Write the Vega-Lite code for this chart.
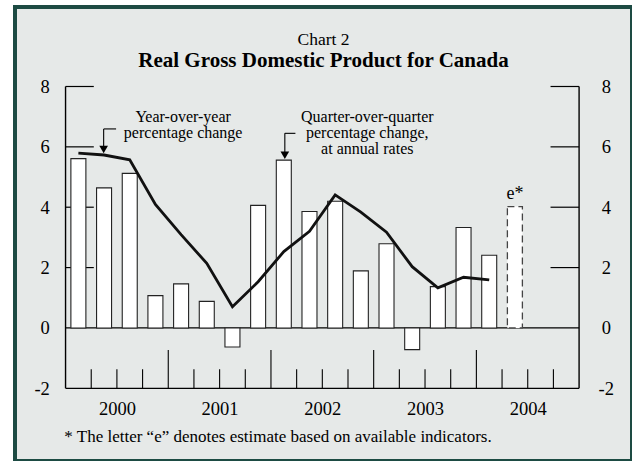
{
  "$schema": "https://vega.github.io/schema/vega-lite/v6.json",
  "width": 617,
  "height": 454,
  "padding": {"left": 15, "top": 7, "right": 0, "bottom": 0},
  "autosize": {"type": "none"},
  "background": "white",
  "config": {
    "view": {"fill": "#e6e9e8", "stroke": "#1d4b43", "strokeWidth": 4},
    "font": "Liberation Serif",
    "text": {"font": "Liberation Serif", "color": "black"}
  },
  "title": {
    "text": "Chart 2",
    "subtitle": "Real Gross Domestic Product for Canada",
    "anchor": "middle",
    "frame": "group",
    "offset": -64,
    "font": "Liberation Serif",
    "fontSize": 17.5,
    "fontWeight": "normal",
    "color": "black",
    "subtitleFont": "Liberation Serif",
    "subtitleFontSize": 21,
    "subtitleFontWeight": "bold",
    "subtitleColor": "black",
    "subtitlePadding": 2
  },
  "datasets": {
    "gdp": [
      {"quarter": "2000Q1", "t": 2000.125, "qoq": 5.61, "yoy": 5.79, "type": "actual"},
      {"quarter": "2000Q2", "t": 2000.375, "qoq": 4.64, "yoy": 5.73, "type": "actual"},
      {"quarter": "2000Q3", "t": 2000.625, "qoq": 5.12, "yoy": 5.57, "type": "actual"},
      {"quarter": "2000Q4", "t": 2000.875, "qoq": 1.07, "yoy": 4.09, "type": "actual"},
      {"quarter": "2001Q1", "t": 2001.125, "qoq": 1.46, "yoy": 3.09, "type": "actual"},
      {"quarter": "2001Q2", "t": 2001.375, "qoq": 0.88, "yoy": 2.14, "type": "actual"},
      {"quarter": "2001Q3", "t": 2001.625, "qoq": -0.63, "yoy": 0.7, "type": "actual"},
      {"quarter": "2001Q4", "t": 2001.875, "qoq": 4.06, "yoy": 1.53, "type": "actual"},
      {"quarter": "2002Q1", "t": 2002.125, "qoq": 5.56, "yoy": 2.53, "type": "actual"},
      {"quarter": "2002Q2", "t": 2002.375, "qoq": 3.86, "yoy": 3.2, "type": "actual"},
      {"quarter": "2002Q3", "t": 2002.625, "qoq": 4.2, "yoy": 4.41, "type": "actual"},
      {"quarter": "2002Q4", "t": 2002.875, "qoq": 1.89, "yoy": 3.84, "type": "actual"},
      {"quarter": "2003Q1", "t": 2003.125, "qoq": 2.79, "yoy": 3.17, "type": "actual"},
      {"quarter": "2003Q2", "t": 2003.375, "qoq": -0.72, "yoy": 2.03, "type": "actual"},
      {"quarter": "2003Q3", "t": 2003.625, "qoq": 1.37, "yoy": 1.33, "type": "actual"},
      {"quarter": "2003Q4", "t": 2003.875, "qoq": 3.33, "yoy": 1.68, "type": "actual"},
      {"quarter": "2004Q1", "t": 2004.125, "qoq": 2.41, "yoy": 1.59, "type": "actual"},
      {"quarter": "2004Q2", "t": 2004.375, "qoq": 4.02, "yoy": null, "type": "estimate"}
    ],
    "yticks": [{"v": 2}, {"v": 4}, {"v": 6}, {"v": 8}],
    "xticks": [
      {"t": 2000.25, "kind": "quarter"}, {"t": 2000.5, "kind": "quarter"}, {"t": 2000.75, "kind": "quarter"},
      {"t": 2001.0, "kind": "year"},
      {"t": 2001.25, "kind": "quarter"}, {"t": 2001.5, "kind": "quarter"}, {"t": 2001.75, "kind": "quarter"},
      {"t": 2002.0, "kind": "year"},
      {"t": 2002.25, "kind": "quarter"}, {"t": 2002.5, "kind": "quarter"}, {"t": 2002.75, "kind": "quarter"},
      {"t": 2003.0, "kind": "year"},
      {"t": 2003.25, "kind": "quarter"}, {"t": 2003.5, "kind": "quarter"}, {"t": 2003.75, "kind": "quarter"},
      {"t": 2004.0, "kind": "year"},
      {"t": 2004.25, "kind": "quarter"}, {"t": 2004.5, "kind": "quarter"}, {"t": 2004.75, "kind": "quarter"}
    ]
  },
  "resolve": {"axis": {"x": "independent", "y": "independent"}},
  "layer": [
    {
      "data": {"name": "yticks"},
      "mark": {"type": "rule", "color": "black", "strokeWidth": 1.2},
      "encoding": {
        "y": {"field": "v", "type": "quantitative",
          "scale": {"domain": [-4.409, 10.634], "nice": false, "zero": false},
          "axis": {"orient": "left", "values": [-2, 0, 2, 4, 6, 8], "offset": -46.3, "domain": false, "ticks": false, "grid": false, "title": null,
            "labelPadding": 12, "labelFont": "Liberation Serif", "labelFontSize": 18.5, "labelColor": "black", "labelExpr": "'' + datum.value"}},
        "x": {"datum": 2000, "type": "quantitative",
          "scale": {"domain": [1999.5565, 2005.4665], "nice": false, "zero": false}, "axis": null},
        "x2": {"datum": 2000.275}
      }
    },
    {
      "data": {"name": "yticks"},
      "mark": {"type": "rule", "color": "black", "strokeWidth": 1.2},
      "encoding": {
        "y": {"field": "v", "type": "quantitative",
          "scale": {"domain": [-4.409, 10.634], "nice": false, "zero": false},
          "axis": {"orient": "right", "values": [-2, 0, 2, 4, 6, 8], "offset": -48.7, "domain": false, "ticks": false, "grid": false, "title": null,
            "labelPadding": 22.5, "labelAlign": "center", "labelFont": "Liberation Serif", "labelFontSize": 18.5, "labelColor": "black", "labelExpr": "'' + datum.value"}},
        "x": {"datum": 2004.722, "type": "quantitative",
          "scale": {"domain": [1999.5565, 2005.4665], "nice": false, "zero": false}, "axis": null},
        "x2": {"datum": 2005}
      }
    },
    {
      "data": {"name": "xticks"},
      "transform": [{"filter": "datum.kind === 'quarter'"}],
      "mark": {"type": "rule", "color": "black", "strokeWidth": 1.1},
      "encoding": {
        "x": {"field": "t", "type": "quantitative",
          "scale": {"domain": [1999.5565, 2005.4665], "nice": false, "zero": false},
          "axis": {"orient": "bottom", "values": [2000.5, 2001.5, 2002.5, 2003.5, 2004.5], "offset": -72.7, "domain": false, "ticks": false, "grid": false, "title": null,
            "labelPadding": 20, "labelBaseline": "middle", "labelOverlap": false, "labelFont": "Liberation Serif", "labelFontSize": 18.5, "labelColor": "black", "labelExpr": "floor(datum.value) + ''"}},
        "y": {"datum": -2, "type": "quantitative",
          "scale": {"domain": [-4.409, 10.634], "nice": false, "zero": false}, "axis": null},
        "y2": {"datum": -1.37}
      }
    },
    {
      "data": {"name": "xticks"},
      "transform": [{"filter": "datum.kind === 'year'"}],
      "mark": {"type": "rule", "color": "black", "strokeWidth": 1.1},
      "encoding": {
        "x": {"field": "t", "type": "quantitative",
          "scale": {"domain": [1999.5565, 2005.4665], "nice": false, "zero": false}, "axis": null},
        "y": {"datum": -2, "type": "quantitative",
          "scale": {"domain": [-4.409, 10.634], "nice": false, "zero": false}, "axis": null},
        "y2": {"datum": -0.73}
      }
    },
    {
      "data": {"values": [{}]},
      "mark": {"type": "rule", "color": "black", "strokeWidth": 1.3},
      "encoding": {
        "x": {"datum": 2000, "type": "quantitative", "scale": {"domain": [1999.5565, 2005.4665], "nice": false, "zero": false}, "axis": null},
        "x2": {"datum": 2005},
        "y": {"datum": -2, "type": "quantitative", "scale": {"domain": [-4.409, 10.634], "nice": false, "zero": false}, "axis": null}
      }
    },
    {
      "data": {"values": [{}]},
      "mark": {"type": "rule", "color": "black", "strokeWidth": 1.3},
      "encoding": {
        "x": {"datum": 2000, "type": "quantitative", "scale": {"domain": [1999.5565, 2005.4665], "nice": false, "zero": false}, "axis": null},
        "x2": {"datum": 2005},
        "y": {"datum": 0, "type": "quantitative", "scale": {"domain": [-4.409, 10.634], "nice": false, "zero": false}, "axis": null}
      }
    },
    {
      "data": {"values": [{}]},
      "mark": {"type": "rule", "color": "black", "strokeWidth": 1.4},
      "encoding": {
        "x": {"datum": 2000, "type": "quantitative", "scale": {"domain": [1999.5565, 2005.4665], "nice": false, "zero": false}, "axis": null},
        "y": {"datum": -2, "type": "quantitative", "scale": {"domain": [-4.409, 10.634], "nice": false, "zero": false}, "axis": null},
        "y2": {"datum": 8}
      }
    },
    {
      "data": {"values": [{}]},
      "mark": {"type": "rule", "color": "black", "strokeWidth": 1.4},
      "encoding": {
        "x": {"datum": 2005, "type": "quantitative", "scale": {"domain": [1999.5565, 2005.4665], "nice": false, "zero": false}, "axis": null},
        "y": {"datum": -2, "type": "quantitative", "scale": {"domain": [-4.409, 10.634], "nice": false, "zero": false}, "axis": null},
        "y2": {"datum": 8}
      }
    },
    {
      "data": {"name": "gdp"},
      "transform": [{"filter": "datum.type === 'actual'"}],
      "mark": {"type": "bar", "size": 15, "fill": "white", "stroke": "#222222", "strokeWidth": 1.1},
      "encoding": {
        "x": {"field": "t", "type": "quantitative", "scale": {"domain": [1999.5565, 2005.4665], "nice": false, "zero": false}, "axis": null},
        "y": {"field": "qoq", "type": "quantitative", "scale": {"domain": [-4.409, 10.634], "nice": false, "zero": false}, "axis": null},
        "y2": {"datum": 0}
      }
    },
    {
      "data": {"name": "gdp"},
      "transform": [{"filter": "datum.type === 'estimate'"}],
      "mark": {"type": "bar", "size": 15, "fill": "white", "stroke": "#444444", "strokeWidth": 1.3, "strokeDash": [7, 4]},
      "encoding": {
        "x": {"field": "t", "type": "quantitative", "scale": {"domain": [1999.5565, 2005.4665], "nice": false, "zero": false}, "axis": null},
        "y": {"field": "qoq", "type": "quantitative", "scale": {"domain": [-4.409, 10.634], "nice": false, "zero": false}, "axis": null},
        "y2": {"datum": 0}
      }
    },
    {
      "data": {"name": "gdp"},
      "transform": [{"filter": "isValid(datum.yoy)"}],
      "mark": {"type": "line", "color": "#111111", "strokeWidth": 2.8},
      "encoding": {
        "x": {"field": "t", "type": "quantitative", "scale": {"domain": [1999.5565, 2005.4665], "nice": false, "zero": false}, "axis": null},
        "y": {"field": "yoy", "type": "quantitative", "scale": {"domain": [-4.409, 10.634], "nice": false, "zero": false}, "axis": null}
      }
    },
    {
      "data": {"values": [{}]},
      "mark": {"type": "rule", "color": "black", "strokeWidth": 1.1},
      "encoding": {
        "x": {"datum": 2000.371, "type": "quantitative", "scale": {"domain": [1999.5565, 2005.4665], "nice": false, "zero": false}, "axis": null},
        "x2": {"datum": 2000.492},
        "y": {"datum": 6.594, "type": "quantitative", "scale": {"domain": [-4.409, 10.634], "nice": false, "zero": false}, "axis": null}
      }
    },
    {
      "data": {"values": [{}]},
      "mark": {"type": "rule", "color": "black", "strokeWidth": 1.1},
      "encoding": {
        "x": {"datum": 2000.371, "type": "quantitative", "scale": {"domain": [1999.5565, 2005.4665], "nice": false, "zero": false}, "axis": null},
        "y": {"datum": 6.594, "type": "quantitative", "scale": {"domain": [-4.409, 10.634], "nice": false, "zero": false}, "axis": null},
        "y2": {"datum": 5.95}
      }
    },
    {
      "data": {"values": [{}]},
      "mark": {"type": "point", "shape": "triangle-down", "filled": true, "color": "black", "opacity": 1, "size": 75},
      "encoding": {
        "x": {"datum": 2000.371, "type": "quantitative", "scale": {"domain": [1999.5565, 2005.4665], "nice": false, "zero": false}, "axis": null},
        "y": {"datum": 5.911, "type": "quantitative", "scale": {"domain": [-4.409, 10.634], "nice": false, "zero": false}, "axis": null}
      }
    },
    {
      "data": {"values": [{}]},
      "mark": {"type": "rule", "color": "black", "strokeWidth": 1.1},
      "encoding": {
        "x": {"datum": 2002.135, "type": "quantitative", "scale": {"domain": [1999.5565, 2005.4665], "nice": false, "zero": false}, "axis": null},
        "x2": {"datum": 2002.238},
        "y": {"datum": 6.448, "type": "quantitative", "scale": {"domain": [-4.409, 10.634], "nice": false, "zero": false}, "axis": null}
      }
    },
    {
      "data": {"values": [{}]},
      "mark": {"type": "rule", "color": "black", "strokeWidth": 1.1},
      "encoding": {
        "x": {"datum": 2002.135, "type": "quantitative", "scale": {"domain": [1999.5565, 2005.4665], "nice": false, "zero": false}, "axis": null},
        "y": {"datum": 6.448, "type": "quantitative", "scale": {"domain": [-4.409, 10.634], "nice": false, "zero": false}, "axis": null},
        "y2": {"datum": 5.76}
      }
    },
    {
      "data": {"values": [{}]},
      "mark": {"type": "point", "shape": "triangle-down", "filled": true, "color": "black", "opacity": 1, "size": 75},
      "encoding": {
        "x": {"datum": 2002.135, "type": "quantitative", "scale": {"domain": [1999.5565, 2005.4665], "nice": false, "zero": false}, "axis": null},
        "y": {"datum": 5.72, "type": "quantitative", "scale": {"domain": [-4.409, 10.634], "nice": false, "zero": false}, "axis": null}
      }
    },
    {
      "data": {"values": [{}]},
      "mark": {"type": "text", "font": "Liberation Serif", "fontSize": 16, "lineHeight": 16, "align": "center", "baseline": "top", "color": "black"},
      "encoding": {
        "x": {"datum": 2001.145, "type": "quantitative", "scale": {"domain": [1999.5565, 2005.4665], "nice": false, "zero": false}, "axis": null},
        "y": {"datum": 7.26, "type": "quantitative", "scale": {"domain": [-4.409, 10.634], "nice": false, "zero": false}, "axis": null},
        "text": {"value": ["Year-over-year", "percentage change"]}
      }
    },
    {
      "data": {"values": [{}]},
      "mark": {"type": "text", "font": "Liberation Serif", "fontSize": 16, "lineHeight": 16, "align": "center", "baseline": "top", "color": "black"},
      "encoding": {
        "x": {"datum": 2002.938, "type": "quantitative", "scale": {"domain": [1999.5565, 2005.4665], "nice": false, "zero": false}, "axis": null},
        "y": {"datum": 7.26, "type": "quantitative", "scale": {"domain": [-4.409, 10.634], "nice": false, "zero": false}, "axis": null},
        "text": {"value": ["Quarter-over-quarter", "percentage change,", "at annual rates"]}
      }
    },
    {
      "data": {"values": [{}]},
      "mark": {"type": "text", "font": "Liberation Serif", "fontSize": 18, "align": "center", "baseline": "alphabetic", "color": "black"},
      "encoding": {
        "x": {"datum": 2004.375, "type": "quantitative", "scale": {"domain": [1999.5565, 2005.4665], "nice": false, "zero": false}, "axis": null},
        "y": {"datum": 4.274, "type": "quantitative", "scale": {"domain": [-4.409, 10.634], "nice": false, "zero": false}, "axis": null},
        "text": {"value": "e*"}
      }
    },
    {
      "data": {"values": [{}]},
      "mark": {"type": "text", "font": "Liberation Serif", "fontSize": 17, "align": "left", "baseline": "alphabetic", "color": "black"},
      "encoding": {
        "x": {"datum": 1999.988, "type": "quantitative", "scale": {"domain": [1999.5565, 2005.4665], "nice": false, "zero": false}, "axis": null},
        "y": {"datum": -3.769, "type": "quantitative", "scale": {"domain": [-4.409, 10.634], "nice": false, "zero": false}, "axis": null},
        "text": {"value": "* The letter “e” denotes estimate based on available indicators."}
      }
    }
  ]
}
